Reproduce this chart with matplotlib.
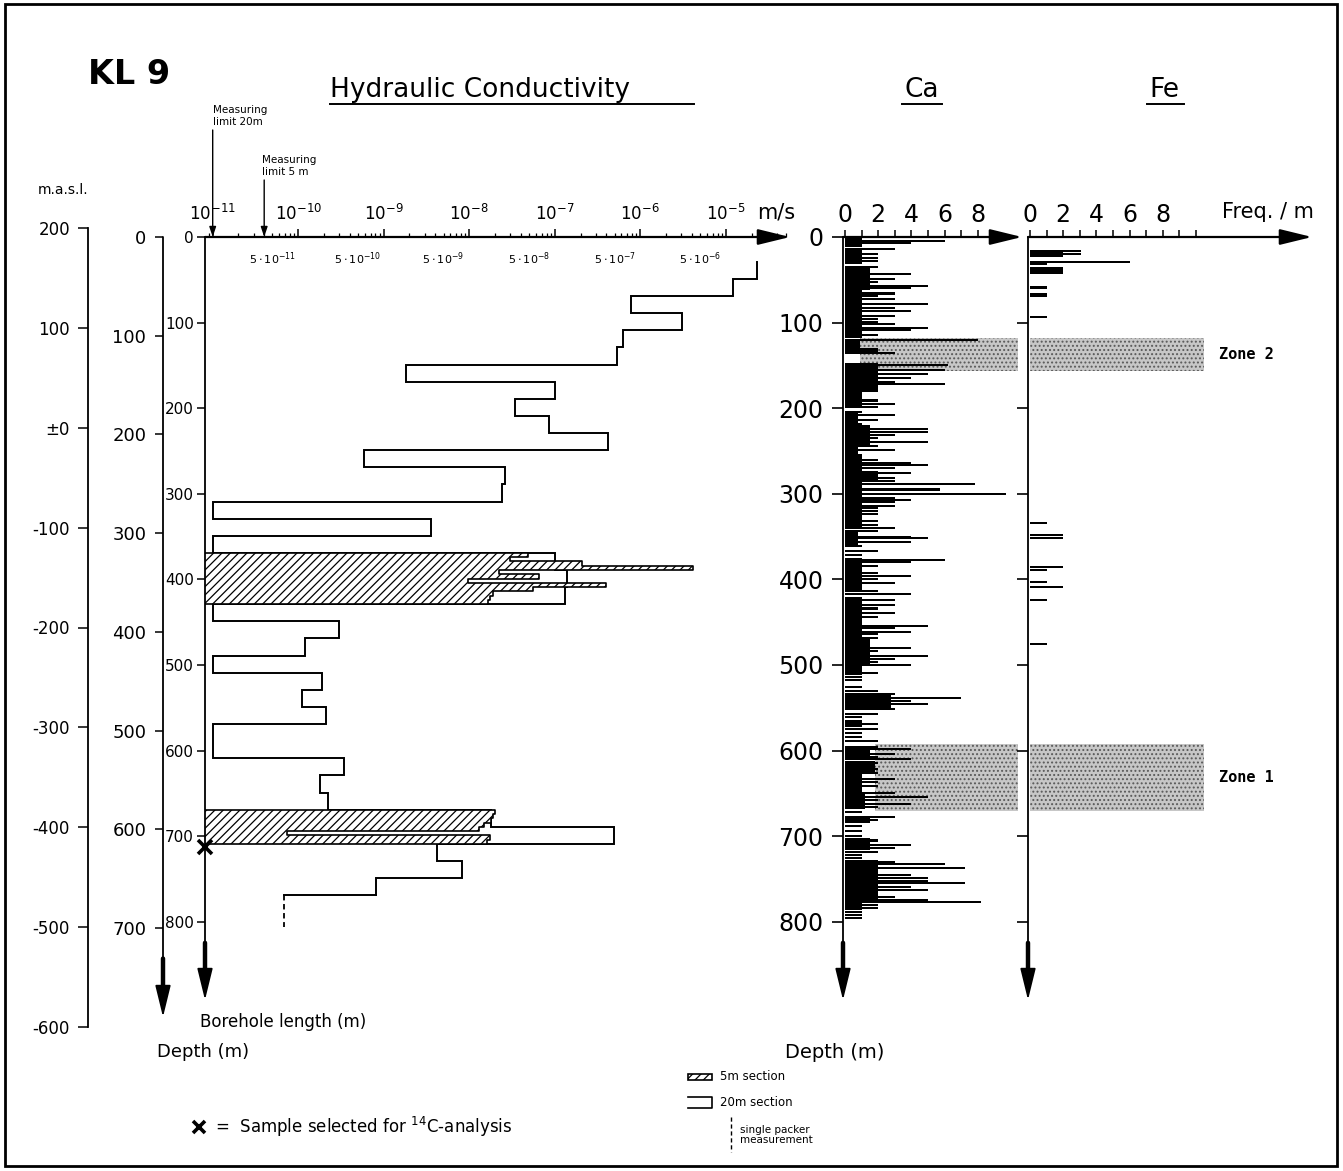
import numpy as np
import matplotlib
matplotlib.use("Agg")
import matplotlib.pyplot as plt
from matplotlib.lines import Line2D
from matplotlib.patches import Rectangle
from matplotlib.ticker import FixedLocator

# ---------------- data ----------------
# hydraulic conductivity, 20 m sections (top of section, borehole length m) and K (m/s)
k20_top = [29, 49, 69, 89, 109, 129, 149, 169, 189, 209, 229, 249, 269, 289, 309, 329, 349,
           369, 389, 409, 429, 449, 469, 489, 509, 529, 549, 569, 589, 609, 629, 649, 669,
           689, 709, 729, 749]
k20_val = [2.3e-5, 1.2e-5, 7.7e-7, 3.1e-6, 6.2e-7, 5.4e-7, 1.8e-9, 1.0e-7, 3.4e-8, 8.6e-8,
           4.2e-7, 5.8e-10, 2.6e-8, 2.4e-8, 1.0e-11, 3.6e-9, 1.0e-11, 1.0e-7, 1.4e-7, 1.3e-7,
           1.0e-11, 3.0e-10, 1.2e-10, 1.0e-11, 1.9e-10, 1.1e-10, 2.1e-10, 1.0e-11, 1.0e-11,
           3.4e-10, 1.8e-10, 2.2e-10, 1.8e-8, 4.9e-7, 4.2e-9, 8.3e-9, 8.1e-10]
# 5 m sections, two packed intervals
k5a_top = [369, 374, 379, 384, 389, 394, 399, 404, 409, 414, 419, 424]
k5a_val = [4.8e-8, 3.0e-8, 2.1e-7, 4.1e-6, 2.2e-8, 6.6e-8, 9.6e-9, 4.0e-7, 5.5e-8, 1.9e-8,
           1.75e-8, 1.65e-8]
k5b_top = [669, 674, 679, 684, 689, 694, 699, 704]
k5b_val = [2.0e-8, 1.9e-8, 1.8e-8, 1.5e-8, 1.3e-8, 7.4e-11, 1.75e-8, 1.6e-8]
packer_top, packer_bot, packer_val = 769, 806, 6.9e-11
sample_depth = 713
limit_20m = 1.0e-11
limit_5m = 4.0e-11

# Ca fracture frequency: dense background segments and single lines
ca_base_top = [0, 14, 34, 62, 120, 131, 147, 181, 203, 220, 245, 255, 274, 285, 325, 345, 375,
               420, 470, 500, 534, 565, 598, 612, 625, 650, 676, 702, 728, 778]
ca_base_bot = [10, 32, 62, 118, 131, 136, 181, 200, 220, 245, 255, 285, 285, 325, 340, 360, 415,
               470, 500, 512, 552, 572, 606, 625, 650, 668, 684, 716, 776, 786]
ca_base_val = [1.0, 1.0, 1.5, 1.0, 0.9, 2.0, 2.0, 1.0, 0.8, 1.5, 0.8, 1.0, 2.0, 1.0, 1.0, 0.8,
               1.0, 1.0, 1.5, 1.0, 2.8, 1.0, 1.5, 1.8, 1.0, 1.2, 1.5, 1.5, 2.0, 1.0]
ca_depth = [5, 7, 11, 14, 20, 24, 28, 35, 40, 43, 49, 53, 57, 60, 66, 69, 72, 78, 83, 87, 92,
            96, 99, 102, 106, 109, 114, 120, 131, 136, 149, 155, 160, 165, 169, 172, 178, 184,
            191, 195, 199, 204, 208, 214, 218, 224, 228, 231, 235, 239, 244, 249, 255, 260,
            264, 266, 270, 274, 276, 281, 285, 289, 295, 300, 305, 307, 310, 314, 317, 320,
            324, 328, 332, 336, 340, 344, 350, 352, 356, 361, 367, 372, 377, 380, 384, 388,
            392, 396, 400, 404, 410, 414, 417, 424, 430, 434, 439, 444, 449, 454, 457, 461,
            464, 468, 474, 480, 484, 489, 493, 497, 500, 505, 509, 514, 518, 526, 530, 534,
            538, 542, 546, 551, 557, 561, 565, 569, 575, 579, 584, 589, 596, 598, 604, 607,
            610, 615, 621, 626, 630, 633, 637, 641, 645, 649, 654, 658, 662, 666, 672, 678,
            681, 688, 694, 700, 705, 710, 714, 718, 722, 726, 730, 733, 737, 741, 745, 749,
            752, 755, 759, 763, 767, 771, 774, 777, 780, 784, 788, 792, 796]
ca_freq = [6.0, 4.0, 1.0, 3.0, 2.0, 2.0, 2.0, 2.0, 1.0, 4.0, 3.0, 2.0, 5.0, 4.0, 3.0, 2.0,
           3.0, 5.0, 3.0, 4.0, 3.0, 2.0, 2.0, 3.0, 5.0, 4.0, 2.0, 8.0, 2.0, 3.0, 6.2, 6.0,
           5.0, 4.0, 3.0, 6.0, 2.0, 1.0, 2.0, 3.0, 2.0, 1.0, 3.0, 2.0, 1.0, 5.0, 5.0, 3.0,
           2.0, 5.0, 2.0, 3.0, 1.0, 2.0, 4.0, 5.0, 3.0, 2.0, 4.0, 3.0, 3.0, 7.8, 5.7, 9.7,
           3.0, 4.0, 3.0, 3.0, 2.0, 2.0, 2.0, 1.0, 2.0, 2.0, 3.0, 2.0, 4.0, 5.0, 4.0, 1.0,
           2.0, 1.0, 6.0, 4.0, 2.0, 1.0, 2.0, 4.0, 2.0, 3.0, 1.0, 2.0, 4.0, 3.0, 3.0, 2.0,
           3.0, 2.0, 1.0, 5.0, 3.0, 4.0, 2.0, 2.0, 1.0, 4.0, 2.0, 5.0, 3.0, 2.0, 4.0, 1.0,
           2.0, 1.0, 1.0, 1.0, 2.0, 3.0, 7.0, 4.0, 5.0, 3.0, 2.0, 1.0, 1.0, 2.0, 2.0, 1.0,
           1.0, 2.0, 2.0, 4.0, 3.0, 2.0, 4.0, 2.0, 2.0, 2.0, 1.0, 3.0, 2.0, 2.0, 1.0, 3.0,
           5.0, 2.0, 4.0, 2.0, 1.0, 3.0, 2.0, 1.0, 1.0, 1.0, 2.0, 4.0, 3.0, 2.0, 1.0, 1.0,
           3.0, 6.0, 7.2, 2.0, 4.0, 5.0, 5.0, 7.2, 4.0, 5.0, 2.0, 3.0, 5.0, 8.2, 2.0, 2.0,
           1.0, 1.0, 1.0]

# Fe fracture frequency
fe_base_top = [15, 28, 35, 57, 66]
fe_base_bot = [23, 33, 41, 61, 70]
fe_base_val = [2.0, 1.0, 2.0, 1.0, 1.0]
fe_depth = [16, 20, 29, 39, 42, 58, 60, 67, 69, 93, 334, 348, 352, 385, 389, 403, 409, 424, 475]
fe_freq = [3.1, 3.1, 6.0, 2.0, 2.0, 1.0, 1.0, 1.0, 1.0, 1.0, 1.0, 2.0, 2.0, 2.0, 1.0, 1.0,
           2.0, 1.0, 1.0]

# fracture zones
zone_names = ["Zone 2", "Zone 1"]
zone_top = [118, 592]
zone_bot = [157, 670]
ca_zone_left = [0.9, 1.8]

# left hand scales
borehole_ticks = [0, 100, 200, 300, 400, 500, 600, 700, 800]
depth_ticks = [0, 100, 200, 300, 400, 500, 600, 700]
masl_ticks = [200, 100, 0, -100, -200, -300, -400, -500, -600]
masl_labels = ["200", "100", "±0", "-100", "-200", "-300", "-400", "-500", "-600"]
k_decades = [-11, -10, -9, -8, -7, -6, -5]

# ---------------- figure ----------------
plt.rcParams["font.family"] = ["DejaVu Sans"]
plt.rcParams["hatch.linewidth"] = 0.9

W, H = 1343, 1171
fig = plt.figure(figsize=(W / 100, H / 100), dpi=100)


def box(x0, y0, x1, y1):
    return [x0 / W, 1 - y1 / H, (x1 - x0) / W, (y1 - y0) / H]


def ftext(x, y, s, **kw):
    return fig.text(x / W, 1 - y / H, s, **kw)


def fline(xs, ys, **kw):
    fig.add_artist(Line2D([x / W for x in xs], [1 - y / H for y in ys], **kw))


def arrows(ax, right=True, down=True):
    kw = dict(xycoords="axes fraction", textcoords="axes fraction", annotation_clip=False)
    head = "-|>,head_length=0.9,head_width=0.22"
    if right:
        ax.annotate("", xy=(1, 1), xytext=(0, 1),
                    arrowprops=dict(arrowstyle=head, lw=1.6, color="k", mutation_scale=22,
                                    shrinkA=0, shrinkB=0), **kw)
    if down:
        ax.annotate("", xy=(0, 0), xytext=(0, 1),
                    arrowprops=dict(arrowstyle=head, lw=1.3, color="k", mutation_scale=22,
                                    shrinkA=0, shrinkB=0), **kw)
        ax.annotate("", xy=(0, 0.02), xytext=(0, 0.075),
                    arrowprops=dict(arrowstyle="-", lw=3.2, color="k",
                                    shrinkA=0, shrinkB=0), **kw)


def clean(ax):
    for s in ax.spines.values():
        s.set_visible(False)
    ax.patch.set_alpha(0)


L_max = (1000 - 237) / 0.856

# ---- hydraulic conductivity panel ----
ax_k = fig.add_axes(box(205, 237, 790, 1000))
clean(ax_k)
ax_k.set_xscale("log")
x_left = 10 ** -11.09
ax_k.set_xlim(x_left, 10 ** -4.25)
ax_k.set_ylim(L_max, 0)

xs, ys = [], []
for t, v in zip(k20_top, k20_val):
    xs += [v, v]
    ys += [t, t + 20]
ax_k.plot(xs, ys, color="k", lw=1.4, zorder=2, solid_joinstyle="miter")
ax_k.plot([k20_val[-1], packer_val], [packer_top, packer_top], color="k", lw=1.4)
ax_k.plot([packer_val, packer_val], [packer_top, packer_bot], color="k", lw=1.3,
          ls=(0, (3, 2)))

for tops, vals in [(k5a_top, k5a_val), (k5b_top, k5b_val)]:
    tops = np.array(tops)
    vals = np.array(vals)
    ax_k.barh(tops + 2.5, vals - x_left, left=x_left, height=5, facecolor="white",
              edgecolor="k", hatch="////", lw=0, zorder=3)
    ox, oy = [x_left], [tops[0]]
    for t, v in zip(tops, vals):
        ox += [v, v]
        oy += [t, t + 5]
    ox.append(x_left)
    oy.append(tops[-1] + 5)
    ax_k.plot(ox, oy, color="k", lw=1.2, zorder=4)
ax_k.plot([x_left], [sample_depth], marker="x", ms=10, mew=2.6, color="k",
          clip_on=False, zorder=5)

ax_k.xaxis.tick_top()
ax_k.xaxis.set_major_locator(FixedLocator([10.0 ** e for e in k_decades]))
ax_k.set_xticklabels([r"$10^{%d}$" % e for e in k_decades])
minors = [m * 10.0 ** e for e in range(-12, -4) for m in range(2, 10)]
minors = [m for m in minors if x_left < m < 10 ** -4.3]
ax_k.xaxis.set_minor_locator(FixedLocator(minors))
ax_k.xaxis.set_minor_formatter(plt.NullFormatter())
ax_k.tick_params(axis="x", which="major", direction="out", length=6, width=1.1,
                 labelsize=12, pad=3)
ax_k.tick_params(axis="x", which="minor", direction="out", length=3, width=0.9)
ax_k.set_yticks(borehole_ticks)
ax_k.tick_params(axis="y", direction="out", length=6, width=1.1, labelsize=11, pad=2)
for e in k_decades[:-1]:
    ax_k.text(5 * 10.0 ** e, 25, r"$5\cdot10^{%d}$" % e, ha="center", va="center",
              fontsize=8)
arrows(ax_k)

for lim, ytxt, label, xt in [(limit_20m, 130, "Measuring\nlimit 20m", 213),
                             (limit_5m, 180, "Measuring\nlimit 5 m", 262)]:
    ax_k.annotate("", xy=(lim, 0), xycoords="data", xytext=(0, 237 - ytxt),
                  textcoords="offset pixels", annotation_clip=False,
                  arrowprops=dict(arrowstyle="-|>,head_length=0.6,head_width=0.2", lw=1.0,
                                  color="k", mutation_scale=10, shrinkA=0, shrinkB=0))
    ftext(xt, ytxt - 3, label, fontsize=7.5, va="bottom", ha="left", linespacing=1.3)

# ---- true depth axis ----
depth_scale = 0.987
ax_d = fig.add_axes(box(163, 237, 170, 1017))
clean(ax_d)
ax_d.set_ylim((1017 - 237) / depth_scale, 0)
ax_d.set_xticks([])
ax_d.set_yticks(depth_ticks)
ax_d.tick_params(axis="y", direction="out", length=6, width=1.1, labelsize=13, pad=6)
arrows(ax_d, right=False)

# ---- m.a.s.l. axis ----
ax_m = fig.add_axes(box(88, 228, 95, 1027))
for s in ["top", "right", "bottom"]:
    ax_m.spines[s].set_visible(False)
ax_m.spines["left"].set_linewidth(1.3)
ax_m.patch.set_alpha(0)
ax_m.set_ylim(-600, 200)
ax_m.set_xticks([])
ax_m.set_yticks(masl_ticks)
ax_m.set_yticklabels(masl_labels)
ax_m.tick_params(axis="y", direction="out", length=7, width=1.1, labelsize=12, pad=6)

# ---- Ca panel ----
ax_ca = fig.add_axes(box(843, 237, 1022, 1000))
clean(ax_ca)
ax_ca.set_xlim(-0.12, 10.66)
ax_ca.set_ylim(L_max, 0)
for i in range(len(zone_top)):
    ax_ca.add_patch(Rectangle((ca_zone_left[i], zone_top[i]), 10.4 - ca_zone_left[i],
                              zone_bot[i] - zone_top[i], facecolor="0.78", edgecolor="0.35",
                              hatch="....", lw=0, zorder=1))
cb_top, cb_bot = np.array(ca_base_top), np.array(ca_base_bot)
ax_ca.barh((cb_top + cb_bot) / 2, ca_base_val, height=cb_bot - cb_top, color="k", zorder=2)
ax_ca.barh(ca_depth, ca_freq, height=2.4, color="k", zorder=2)
ax_ca.xaxis.tick_top()
ax_ca.set_xticks([0, 2, 4, 6, 8])
ax_ca.set_xticks([1, 3, 5, 7], minor=True)
ax_ca.tick_params(axis="x", which="both", direction="out", length=5, width=1.1,
                  labelsize=17, pad=2)
ax_ca.set_yticks(borehole_ticks)
ax_ca.tick_params(axis="y", direction="out", length=8, width=1.2, labelsize=17, pad=6)
arrows(ax_ca)

# ---- Fe panel ----
ax_fe = fig.add_axes(box(1028, 237, 1312, 1000))
clean(ax_fe)
ax_fe.set_xlim(-0.12, 16.99)
ax_fe.set_ylim(L_max, 0)
for i in range(len(zone_top)):
    ax_fe.add_patch(Rectangle((0, zone_top[i]), 10.5, zone_bot[i] - zone_top[i],
                              facecolor="0.78", edgecolor="0.35", hatch="....", lw=0,
                              zorder=1))
    ax_fe.text(11.4, (zone_top[i] + zone_bot[i]) / 2, zone_names[i], ha="left",
               va="center", fontsize=11, weight="bold", family="DejaVu Sans Mono")
fb_top, fb_bot = np.array(fe_base_top), np.array(fe_base_bot)
ax_fe.barh((fb_top + fb_bot) / 2, fe_base_val, height=fb_bot - fb_top, color="k", zorder=2)
ax_fe.barh(fe_depth, fe_freq, height=2.4, color="k", zorder=2)
ax_fe.xaxis.tick_top()
ax_fe.set_xticks([0, 2, 4, 6, 8])
ax_fe.set_xticks([1, 3, 5, 7, 9, 10], minor=True)
ax_fe.tick_params(axis="x", which="both", direction="out", length=5, width=1.1,
                  labelsize=17, pad=2)
ax_fe.set_yticks(borehole_ticks[1:])
ax_fe.set_yticklabels([])
ax_fe.tick_params(axis="y", direction="out", length=8, width=1.2)
arrows(ax_fe)

# ---- titles and labels ----
ftext(88, 75, "KL 9", fontsize=24, weight="bold", va="center")
ftext(330, 90, "Hydraulic Conductivity", fontsize=19, va="center")
fline([330, 694], [104, 104], color="k", lw=1.4)
ftext(904, 90, "Ca", fontsize=19, va="center")
fline([902, 942], [104, 104], color="k", lw=1.4)
ftext(1149, 90, "Fe", fontsize=19, va="center")
fline([1147, 1184], [104, 104], color="k", lw=1.4)
ftext(38, 190, "m.a.s.l.", fontsize=10, va="center")
ftext(757, 212, "m/s", fontsize=15, va="center")
ftext(1222, 212, "Freq. / m", fontsize=15, va="center")
ftext(200, 1022, "Borehole length (m)", fontsize=12, va="center")
ftext(157, 1052, "Depth (m)", fontsize=13, va="center")
ftext(785, 1052, "Depth (m)", fontsize=14, va="center")

# ---- legend ----
fig.add_artist(Rectangle((688 / W, 1 - 1080 / H), 24 / W, 6 / H, facecolor="white",
                         edgecolor="k", hatch="////", lw=1.2, transform=fig.transFigure))
ftext(720, 1077, "5m section", fontsize=8.5, va="center")
fline([688, 712, 712, 688], [1097, 1097, 1108, 1108], color="k", lw=1.2)
ftext(720, 1103, "20m section", fontsize=8.5, va="center")
fline([731, 731], [1117, 1152], color="k", lw=1.0, ls=(0, (3, 2)))
ftext(740, 1135, "single packer\nmeasurement", fontsize=7.5, va="center", linespacing=1.0)
fig.add_artist(Line2D([199 / W], [1 - 1127 / H], marker="x", ms=9, mew=2.6, color="k"))
ftext(215, 1127, r"=  Sample selected for $^{14}$C-analysis", fontsize=12, va="center")

# ---- frame ----
fig.add_artist(Rectangle((5 / W, 1 - 1166 / H), 1332 / W, 1162 / H, fill=False, lw=2,
                         edgecolor="k", transform=fig.transFigure))

fig.savefig("out.png", dpi=100, facecolor="white")
